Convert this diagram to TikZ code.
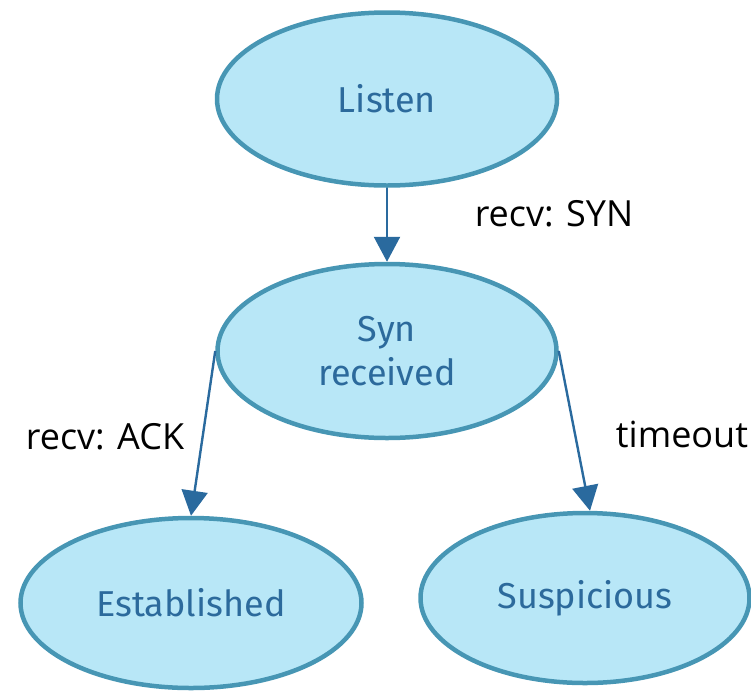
\documentclass[tikz,border=0pt]{standalone}
\usepackage{fontspec}
\setmainfont{Open Sans}
\newfontfamily\statefont{Fira Sans}
\usetikzlibrary{shapes.geometric,arrows.meta}
\definecolor{stfill}{HTML}{B8E7F7}
\definecolor{stedge}{HTML}{4796B4}
\definecolor{sttext}{HTML}{2C6A9C}
\definecolor{arrowc}{HTML}{2A6A9E}
\tikzset{
  state/.style={ellipse, draw=stedge, fill=stfill, line width=4.5pt, inner sep=0pt,
    text=sttext, font=\statefont\fontsize{36}{44}\selectfont, align=center},
  trans/.style={draw=arrowc, line width=2.4pt,
    -{Triangle[width=26pt,length=25pt]}},
  tlabel/.style={font=\fontsize{36}{40}\selectfont, text=black, inner sep=0pt}
}
\begin{document}
\begin{tikzpicture}[x=1pt,y=-1pt]
  \useasboundingbox (0,0) rectangle (751,691);
  \node[state, minimum width=340pt, minimum height=173pt] (listen) at (387,99) {Listen};
  \node[state, minimum width=339pt, minimum height=174pt] (syn) at (387,351) {Syn\\received};
  \node[state, minimum width=341pt, minimum height=170pt] (est) at (191,603) {Established};
  \node[state, minimum width=329pt, minimum height=170pt] (sus) at (585,598) {Suspicious};

  \draw[trans] (listen.south) -- (syn.north);
  \draw[trans] (syn.west) -- (est.north);
  \draw[trans] (syn.east) -- ([xshift=5pt]sus.north);

  \node[tlabel] (l1) at (554,214) {recv: SYN};
  \node[tlabel] (l2) at (105,437) {recv: ACK};
  \node[tlabel] (l3) at (682,434) {timeout};
\end{tikzpicture}
\end{document}
